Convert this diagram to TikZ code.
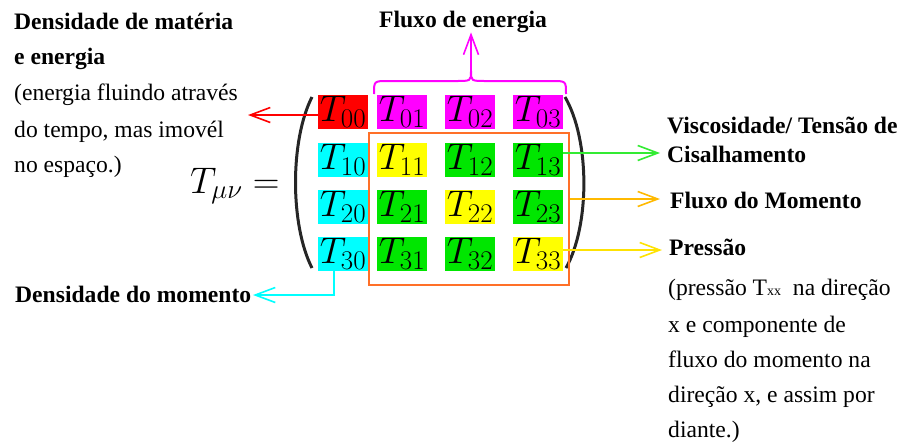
\documentclass[tikz,border=0pt]{standalone}
\usepackage{fix-cm}
\usepackage{fontspec}
\setmainfont{Liberation Serif}
\usepackage{tikz}
\usetikzlibrary{arrows.meta, positioning, fit}
\DeclareMathSizes{37}{37}{27}{20}
\definecolor{celred}{RGB}{255,0,0}
\definecolor{celmag}{RGB}{255,0,255}
\definecolor{celcyan}{RGB}{0,255,255}
\definecolor{celyel}{RGB}{255,255,0}
\definecolor{celgrn}{RGB}{0,230,0}
\definecolor{boxorange}{RGB}{255,112,40}

\begin{document}
\begin{tikzpicture}[x=1pt,y=-1pt,
    every node/.style={inner sep=0pt},
    hdr/.style={font=\fontsize{23.6}{28}\selectfont\bfseries, anchor=base west},
    txt/.style={font=\fontsize{23.6}{28}\selectfont, anchor=base west},
    cell/.style={minimum width=50pt, minimum height=34pt, font=\fontsize{37}{40}\selectfont},
    tip/.style={-{Straight Barb[length=20pt,width=15pt]}, line width=1.6pt}]
  \useasboundingbox (0,0) rectangle (902,442);
  % Arrow colours
  \def\arrred{celred}
  \def\arrgrn{green!90!black!80!white}
  \def\arrorg{orange!55!yellow}
  \def\arryel{yellow!85!orange}
  \def\arrcyan{celcyan}

  % --- LEFT SIDE: T_mu nu = ---
  \node[anchor=base west, font=\fontsize{37}{40}\selectfont] (tmn) at (190,193) {$T_{\mu\nu} =$};

  % --- MATRIX CELLS ---
  \foreach \cl/\x/\col in {0/343/celred,1/402/celmag,2/470/celmag,3/538/celmag}
    \node[cell, fill=\col] (c0\cl) at (\x,112) {$T_{0\cl}$};
  \foreach \cl/\x/\col in {0/343/celcyan,1/402/celyel,2/470/celgrn,3/538/celgrn}
    \node[cell, fill=\col] (c1\cl) at (\x,160) {$T_{1\cl}$};
  \foreach \cl/\x/\col in {0/343/celcyan,1/402/celgrn,2/470/celyel,3/538/celgrn}
    \node[cell, fill=\col] (c2\cl) at (\x,207) {$T_{2\cl}$};
  \foreach \cl/\x/\col in {0/343/celcyan,1/402/celgrn,2/470/celgrn,3/538/celyel}
    \node[cell, fill=\col] (c3\cl) at (\x,254) {$T_{3\cl}$};

  % parentheses
  \draw[line width=3pt, black!85] (312,97) .. controls (290,140) and (290,225) .. (312,268);
  \draw[line width=3pt, black!85] (565,97) .. controls (590,140) and (590,225) .. (566,268);

  % spatial block
  \node[draw=boxorange, line width=2pt, fit={(369,133) (569,285)}] (spbox) {};

  % --- TOP: energy flux brace ---
  \draw[celmag, line width=2pt] (374,94) .. controls (374,81) .. (388,81) -- (456,81)
    .. controls (471,81) .. (471,71) .. controls (471,81) .. (486,81) -- (552,81)
    .. controls (566,81) .. (566,94);
  \coordinate (brtip) at (471,71);
  \node[hdr, anchor=base] (fluxen) at (463,27) {Fluxo de energia};
  \draw[tip, celmag] (brtip) -- (brtip |- fluxen.south);

  % --- LEFT LABELS ---
  \node[hdr] (den1) at (14,29) {Densidade de matéria};
  \node[hdr] (den2) at (14,64) {e energia};
  \node[txt] (den3) at (14,100) {(energia fluindo através};
  \node[txt] (den4) at (14,137) {do tempo, mas imovél};
  \node[txt] (den5) at (14,172) {no espaço.)};
  \node[hdr] (denmom) at (15,302) {Densidade do momento};

  % --- RIGHT LABELS ---
  \node[hdr] (visc1) at (667,133) {Viscosidade/ Tensão de};
  \node[hdr] (visc2) at (667,162) {Cisalhamento};
  \node[hdr] (fluxmom) at (670,208) {Fluxo do Momento};
  \node[hdr] (press) at (669,255) {Pressão};
  \node[txt] (pr1) at (668,295) {(pressão T{\fontsize{14}{14}\selectfont xx}\ \ na direção};
  \node[txt] (pr2) at (668,332) {x e componente de};
  \node[txt] (pr3) at (668,367) {fluxo do momento na};
  \node[txt] (pr4) at (668,402) {direção x, e assim por};
  \node[txt] (pr5) at (668,437) {diante.)};

  % --- CONNECTORS ---
  \coordinate (redend) at (248,115);
  \coordinate (grnend) at (660,153);
  \coordinate (orgend) at (660,199);
  \coordinate (yelend) at (662,250);
  \coordinate (cyanend) at (253,295);
  \draw[tip, \arrred] (c00.west |- redend) -- (redend);
  \draw[tip, \arrgrn] (c13.east |- grnend) -- (grnend);
  \draw[tip, \arrorg] (spbox.east |- orgend) -- (orgend);
  \draw[tip, \arryel] (c33.east |- yelend) -- (yelend);
  \draw[tip, \arrcyan] ([xshift=-9pt]c30.south) |- (cyanend);
\end{tikzpicture}
\end{document}
